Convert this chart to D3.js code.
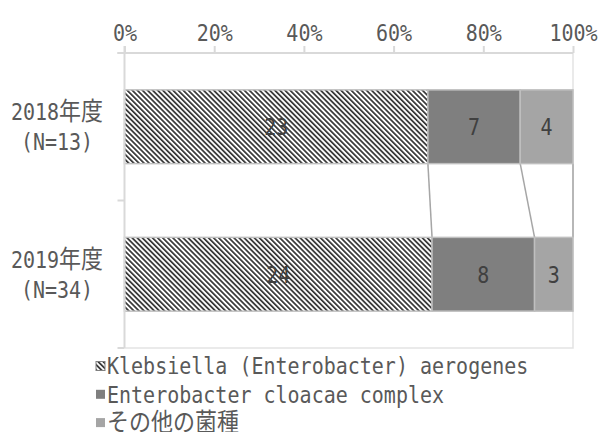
<!DOCTYPE html>
<html>
<head>
<meta charset="UTF-8">
<title>Stacked 100% bar</title>
<script src="https://cdn.jsdelivr.net/npm/d3@7"></script>
<style>
  body { margin: 0; background: #fff; }
  text { font-family: "DejaVu Sans Mono", "Noto Sans CJK JP", monospace; font-size: 20px; }
</style>
</head>
<body>
<script>
// chart data
var catYear = ["2018年度", "2019年度"];
var catN = ["(N=13)", "(N=34)"];
var seriesNames = ["Klebsiella (Enterobacter) aerogenes", "Enterobacter cloacae complex", "その他の菌種"];
var kleb = [23, 24];
var cloacae = [7, 8];
var other = [4, 3];
var tickVals = [0, 0.2, 0.4, 0.6, 0.8, 1];

var W = 598, H = 432;
var pLeft = 124.5, pRight = 573, pTop = 53, pBottom = 348;
var fills = ["url(#hatch)", "#7f7f7f", "#a5a5a5"];
var stretch = "scale(1,1.15)"; // original font is taller and narrower than DejaVu Mono
var capMid = 8.4;               // baseline offset to centre caps on a line

var svg = d3.select("body").append("svg")
    .attr("width", W).attr("height", H);

var defs = svg.append("defs");
var pat = defs.append("pattern")
    .attr("id", "hatch")
    .attr("patternUnits", "userSpaceOnUse")
    .attr("width", 3.6).attr("height", 8)
    .attr("patternTransform", "rotate(-45)");
pat.append("rect").attr("width", 3.6).attr("height", 8).attr("fill", "#fff");
pat.append("rect").attr("width", 1.7).attr("height", 8).attr("fill", "#333");

// append text, CJK runs get a bigger size so they fill the full em like the original
function richText(sel, str) {
  str.split(/([\u3000-\u9fff\uff00-\uffef]+)/).forEach(function(part) {
    if (!part) return;
    var t = sel.append("tspan").text(part);
    if (/[\u3000-\u9fff\uff00-\uffef]/.test(part)) {
      t.style("font-family", "'Noto Sans CJK JP'").style("font-size", "22px");
    }
  });
}

function label(parent, tx, ty, anchor, color) {
  return parent.append("text")
      .attr("transform", "translate(" + tx + "," + ty + ") " + stretch)
      .attr("text-anchor", anchor)
      .attr("fill", color);
}

var rows = catYear.map(function(c, i) {
  var vals = [kleb[i], cloacae[i], other[i]];
  var tot = d3.sum(vals), acc = 0;
  return vals.map(function(v, j) {
    var s = { cat: c, v: v, j: j, x0: acc / tot, x1: (acc + v) / tot };
    acc += v;
    return s;
  });
});

var x = d3.scaleLinear().domain([0, 1]).range([pLeft, pRight]);
var y = d3.scaleBand().domain(catYear).range([pTop, pBottom])
    .paddingInner(0.5).paddingOuter(0.25);

// frame (right + bottom)
svg.append("path")
    .attr("d", "M" + pRight + "," + pTop + "V" + pBottom + "H" + pLeft)
    .attr("fill", "none").attr("stroke", "#e3e3e3").attr("stroke-width", 1.5);

// series lines between bars
for (var k = 0; k < rows.length - 1; k++) {
  rows[k].forEach(function(s, j) {
    var nx = rows[k + 1][j].x1;
    svg.append("line")
        .attr("x1", x(s.x1)).attr("y1", y(catYear[k]) + y.bandwidth())
        .attr("x2", x(nx)).attr("y2", y(catYear[k + 1]))
        .attr("stroke", "#a6a6a6").attr("stroke-width", 1.5);
  });
}

// bars
rows.forEach(function(r) {
  var g = svg.append("g");
  g.selectAll("rect").data(r).enter().append("rect")
      .attr("x", function(d) { return x(d.x0); })
      .attr("y", function(d) { return y(d.cat); })
      .attr("width", function(d) { return x(d.x1) - x(d.x0); })
      .attr("height", y.bandwidth())
      .attr("fill", function(d) { return fills[d.j]; })
      .attr("stroke", "#bfbfbf").attr("stroke-width", 1.5);
  r.forEach(function(d) {
    label(g, (x(d.x0) + x(d.x1)) / 2, y(d.cat) + y.bandwidth() / 2 + capMid, "middle", "#404040")
        .text(d.v);
  });
});

// top value axis
var xAxis = d3.axisTop(x).tickValues(tickVals).tickSize(7)
    .tickFormat(function(d) { return Math.round(d * 100) + "%"; });
var gx = svg.append("g").attr("transform", "translate(0," + pTop + ")").call(xAxis);
gx.select(".domain").attr("stroke", "#d9d9d9").attr("stroke-width", 2)
    .attr("d", "M" + (pLeft - 7) + ",0H" + pRight);
gx.selectAll(".tick line").attr("stroke", "#d9d9d9").attr("stroke-width", 2);
gx.selectAll(".tick text").attr("fill", "#595959").attr("y", null).attr("dy", null)
    .attr("transform", "translate(0,-12) " + stretch)
    .style("font-size", "20px").style("font-family", "'DejaVu Sans Mono'");

// left category axis
var ax = svg.append("g");
ax.append("line").attr("x1", pLeft).attr("x2", pLeft).attr("y1", pTop - 7).attr("y2", pBottom)
    .attr("stroke", "#d9d9d9").attr("stroke-width", 2);
[pTop, (pTop + pBottom) / 2, pBottom].forEach(function(ty) {
  ax.append("line").attr("x1", pLeft - 7).attr("x2", pLeft).attr("y1", ty).attr("y2", ty)
      .attr("stroke", "#d9d9d9").attr("stroke-width", 2);
});
catYear.forEach(function(c, i) {
  var cy = y(c) + y.bandwidth() / 2;
  richText(label(ax, 57, cy - 15 + capMid, "middle", "#595959"), c);
  label(ax, 57, cy + 15 + capMid, "middle", "#595959").text(catN[i]);
});

// legend
var lg = svg.append("g");
seriesNames.forEach(function(n, i) {
  var ly = 366 + i * 28.3;
  lg.append("rect").attr("x", 96).attr("y", ly - 4.5).attr("width", 9).attr("height", 9)
      .attr("fill", fills[i]).attr("stroke", i === 0 ? "#808080" : "none").attr("stroke-width", 1);
  richText(label(lg, 107, ly + capMid, "start", "#595959"), n);
});
</script>
</body>
</html>
